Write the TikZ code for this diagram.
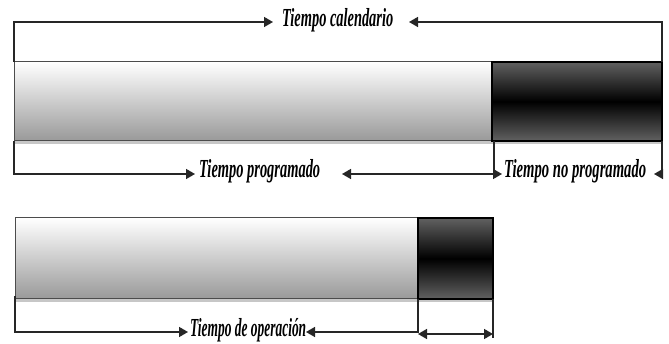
\documentclass[tikz,border=0pt]{standalone}
\usepackage{fontspec}
\setmainfont{Liberation Serif}
\usetikzlibrary{arrows.meta}
\newcommand{\fitlabel}[2]{\resizebox{#1}{\height}{#2}}
\begin{document}
\begin{tikzpicture}[x=1pt,y=-1pt,
  lbl/.style={inner sep=0pt,anchor=base west,font=\fontsize{26}{28}\selectfont\bfseries\itshape},
  conn/.style={line width=1.5pt,draw=black!85},
  tipend/.style={-{Triangle[length=9pt,width=10pt]}},
  bothtip/.style={{Triangle[length=9pt,width=10pt]}-{Triangle[length=9pt,width=10pt]}},
  lightbar/.style={top color=white,bottom color=black!40},
  darkbar/.style={top color=black!62,bottom color=black!62,middle color=black},
  lightedge/.style={draw=black!70,line width=1pt},
  darkedge/.style={draw=black,line width=1.3pt},
  strip/.style={fill=black!22}
]
\useasboundingbox (0,0) rectangle (669,344);

% ---------- bar 1 ----------
\shade[lightbar] (14,62) rectangle (492,141);
\shade[darkbar] (492,62) rectangle (662,141);
\fill[strip] (14,141) rectangle (662,144);
\draw[lightedge] (14,62) rectangle (492,141);
\draw[darkedge] (492,62) rectangle (662,141);

% ---------- bar 2 ----------
\shade[lightbar] (15,218) rectangle (418,299);
\shade[darkbar] (418,218) rectangle (493,299);
\fill[strip] (15,299) rectangle (493,302);
\draw[lightedge] (15,218) rectangle (418,299);
\draw[darkedge] (418,218) rectangle (493,299);

% ---------- row 1 ----------
\coordinate (L1) at (14,62);
\coordinate (L1t) at (14,22);
\coordinate (A1) at (273,22);
\coordinate (B1) at (409,22);
\coordinate (R1t) at (662,22);
\coordinate (R1) at (662,62);
\node[lbl] (tc) at (282,27) {\fitlabel{111pt}{Tiempo calendario}};
\draw[conn,tipend] (L1) -- (L1t) -- (A1);
\draw[conn,tipend] (R1) -- (R1t) -- (B1);

% ---------- row 2 ----------
\coordinate (L2) at (14,141);
\coordinate (L2b) at (14,174);
\coordinate (A2) at (195,174);
\coordinate (B2) at (342,174);
\coordinate (M2) at (494,141);
\coordinate (M2b) at (494,174);
\coordinate (C2) at (502,174);
\coordinate (R2) at (662,141);
\coordinate (R2b) at (662,174);
\coordinate (D2) at (654,174);
\node[lbl] (tp) at (199,178) {\fitlabel{121pt}{Tiempo programado}};
\node[lbl] (tnp) at (504,178) {\fitlabel{142pt}{Tiempo no programado}};
\draw[conn,tipend] (L2) -- (L2b) -- (A2);
\draw[conn,tipend] (M2) -- (M2b) -- (B2);
\draw[conn,tipend] (M2b) -- (C2);
\draw[conn,tipend] (R2) -- (R2b) -- (D2);

% ---------- row 3 ----------
\coordinate (L3) at (15,296);
\coordinate (L3b) at (15,332);
\coordinate (A3) at (188,332);
\coordinate (B3) at (306,332);
\coordinate (M3) at (418,299);
\coordinate (M3b) at (418,332);
\coordinate (M3c) at (418,334);
\coordinate (R3) at (493,299);
\coordinate (R3b) at (493,338);
\coordinate (R3c) at (493,334);
\node[lbl] (top) at (190,336) {\fitlabel{116pt}{Tiempo de operación}};
\draw[conn,tipend] (L3) -- (L3b) -- (A3);
\draw[conn,tipend] (M3) -- (M3b) -- (B3);
\draw[conn] (R3) -- (R3b);
\draw[conn,bothtip] (M3c) -- (R3c);
\end{tikzpicture}
\end{document}
